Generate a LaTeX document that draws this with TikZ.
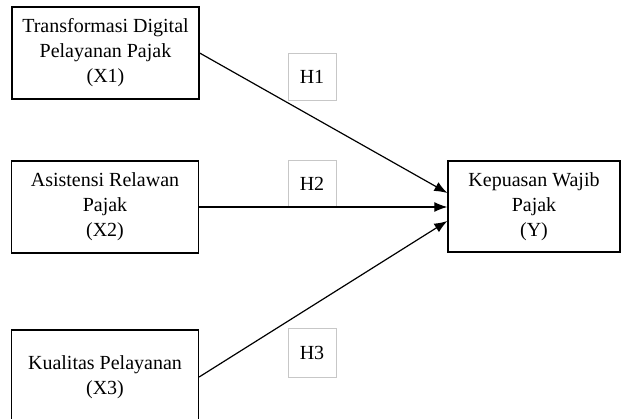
\documentclass[tikz,border=0pt]{standalone}
\usepackage{fontspec}
\setmainfont{Liberation Serif}
\usetikzlibrary{arrows.meta}
\begin{document}
\begin{tikzpicture}[x=1pt,y=-1pt,
  var/.style={draw, line width=1.3pt, minimum width=187pt, minimum height=92pt, align=center, inner sep=0pt, font=\fontsize{20}{25}\selectfont},
  hyp/.style={draw=black!22, line width=0.8pt, minimum width=48pt, minimum height=47pt, inner sep=0pt, font=\fontsize{20}{24}\selectfont},
  conn/.style={line width=1.2pt, -{Latex[length=13pt,width=10pt]}}]
\useasboundingbox (0,0) rectangle (622,419);
\clip (0,0) rectangle (622,419);
\node[var] (x1) at (105.5,53) {Transformasi Digital\\Pelayanan Pajak\\(X1)};
\node[var] (x2) at (105,207) {Asistensi Relawan\\Pajak\\(X2)};
\node[var, minimum height=94pt] (x3) at (105,377) {Kualitas Pelayanan\\(X3)};
\node[var, minimum width=172pt, minimum height=91pt] (y) at (534,206.5) {Kepuasan Wajib\\Pajak\\(Y)};
\node[hyp] (h1) at (312,76.5) {H1};
\node[hyp] (h2) at (312,183.5) {H2};
\node[hyp, minimum height=49pt] (h3) at (312,352.5) {H3};
\draw[conn] (x1.east) -- ([yshift=13.5pt]y.west);
\draw[conn] (x2.east) -- (y.west |- x2.east);
\draw[conn] (x3.east) -- ([yshift=-14.5pt]y.west);
\end{tikzpicture}
\end{document}
